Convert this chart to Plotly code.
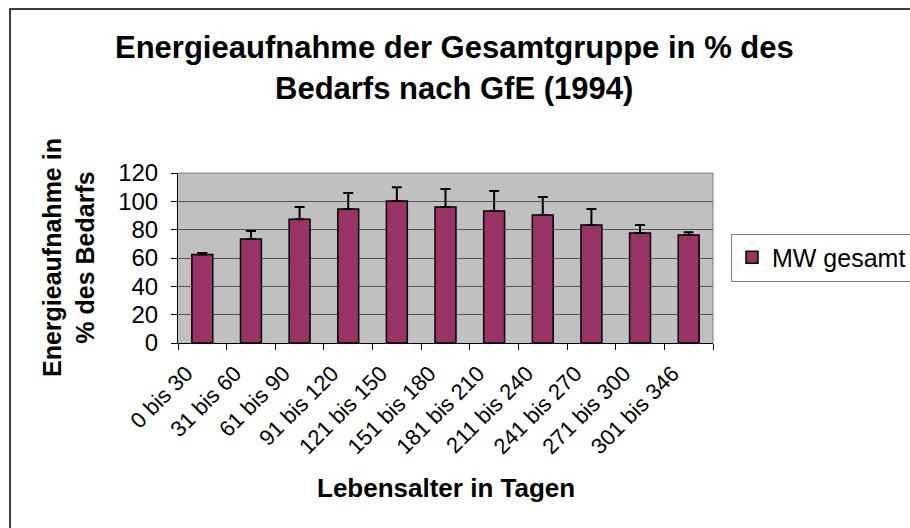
import plotly.graph_objects as go

categories = ["0 bis 30", "31 bis 60", "61 bis 90", "91 bis 120", "121 bis 150",
              "151 bis 180", "181 bis 210", "211 bis 240", "241 bis 270",
              "271 bis 300", "301 bis 346"]
mw_gesamt = [62.4, 73.4, 87.3, 94.6, 100.2, 96.0, 93.2, 90.4, 83.3, 77.6, 76.2]
sd_plus = [1.1, 5.6, 8.7, 11.3, 9.8, 12.7, 14.1, 12.6, 11.3, 5.7, 1.9]
y_ticks = [0, 20, 40, 60, 80, 100, 120]

W, H = 910, 528
L, R, T, B = 178, 197, 173, 185
pw, ph = W - L - R, H - T - B


def px(x):
    return (x - L) / pw


def py(y):
    return (H - B - y) / ph


FONT = "Liberation Sans, Arial, sans-serif"

fig = go.Figure()
fig.add_trace(go.Bar(
    x=categories, y=mw_gesamt, name="MW gesamt",
    marker=dict(color="#993366", line=dict(color="black", width=1.5)),
    error_y=dict(type="data", symmetric=False, array=sd_plus,
                 arrayminus=[0] * len(sd_plus), color="black",
                 thickness=2, width=5),
))

fig.update_layout(
    width=W, height=H,
    margin=dict(l=L, r=R, t=T, b=B, autoexpand=False),
    paper_bgcolor="white", plot_bgcolor="#C0C0C0",
    bargap=0.57,
    font=dict(family=FONT, size=22, color="black"),
    showlegend=True,
    legend=dict(x=px(731), y=py(257.5), xanchor="left", yanchor="middle",
                bordercolor="#808080", borderwidth=1, bgcolor="white",
                font=dict(size=25, family=FONT)),
    xaxis=dict(showline=True, linecolor="black", linewidth=1,
               ticks="outside", tickson="boundaries", ticklen=6,
               tickcolor="black", tickangle=-45,
               tickfont=dict(size=22), ticklabelshift=-16, ticklabelstandoff=8,
               showgrid=False, automargin=False),
    yaxis=dict(range=[0, 120], tickvals=y_ticks, showline=True,
               linecolor="black", linewidth=1, ticks="outside", ticklen=6,
               tickcolor="black", gridcolor="#555555", gridwidth=1,
               tickfont=dict(size=24), ticklabelstandoff=8,
               zeroline=False, automargin=False),
    shapes=[
        dict(type="line", xref="paper", yref="paper", x0=0, x1=1, y0=1, y1=1,
             line=dict(color="#808080", width=1)),
        dict(type="line", xref="paper", yref="paper", x0=1, x1=1, y0=0, y1=1,
             line=dict(color="#808080", width=1)),
        dict(type="rect", xref="paper", yref="paper",
             x0=px(10), x1=px(915), y0=py(9), y1=py(535),
             line=dict(color="black", width=1.5)),
    ],
    annotations=[
        dict(text="<b>Energieaufnahme der Gesamtgruppe in % des</b>",
             xref="paper", yref="paper", x=px(454), y=py(48),
             xanchor="center", yanchor="middle", showarrow=False,
             font=dict(size=31, family=FONT)),
        dict(text="<b>Bedarfs nach GfE (1994)</b>",
             xref="paper", yref="paper", x=px(454), y=py(88),
             xanchor="center", yanchor="middle", showarrow=False,
             font=dict(size=31, family=FONT)),
        dict(text="<b>Lebensalter in Tagen</b>",
             xref="paper", yref="paper", x=px(446), y=py(488),
             xanchor="center", yanchor="middle", showarrow=False,
             font=dict(size=26, family=FONT)),
        dict(text="<b>Energieaufnahme in<br>% des Bedarfs</b>",
             xref="paper", yref="paper", x=px(68), y=py(258),
             xanchor="center", yanchor="middle", showarrow=False,
             textangle=-90, font=dict(size=25, family=FONT)),
    ],
)

fig.write_html("out.html",
               config={"displayModeBar": False},
               post_script="document.body.style.margin='0';"
                           "document.body.style.padding='0';"
                           "document.body.style.overflow='hidden';")
